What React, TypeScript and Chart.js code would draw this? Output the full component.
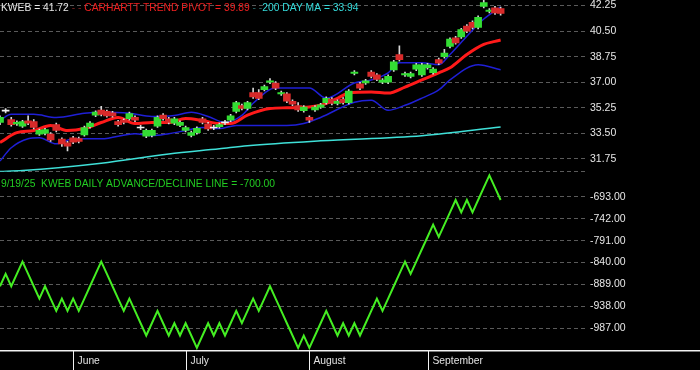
import React, { useEffect, useRef } from 'react';
import { Chart, registerables } from 'chart.js';

Chart.register(...registerables);

// ---------- DATA ----------
const ticker = 'KWEB';
const dateLabel = '9/19/25';
const monthNames = ['June', 'July', 'August', 'September'];
const monthStartDay = [13, 33, 55, 76];

const priceTicks = [31.75, 33.5, 35.25, 37.0, 38.75, 40.5, 42.25];
const adTicks = [-987, -938, -889, -840, -791, -742, -693];

const opens = [
  34.24, 35.06, 34.45, 34.15, 34.0, 34.35, 34.3, 33.45, 33.5, 33.45,
  34.1, 33.1, 32.85, 33.2, 33.15, 33.4, 33.95, 34.75, 35.1, 35.0,
  34.9, 34.3, 34.4, 34.5, 34.6, 33.9, 33.3, 33.35, 34.0, 34.75,
  34.5, 34.2, 34.05, 33.7, 33.35, 33.55, 34.5, 34.15, 33.9, 33.95,
  34.25, 34.4, 35.0, 35.4, 35.2, 36.3, 36.3, 36.5, 37.0, 36.95,
  36.2, 36.2, 35.7, 35.4, 35.05, 34.6, 35.1, 35.3, 35.6, 35.85,
  35.55, 35.85, 35.6, 37.6, 36.9, 36.95, 37.7, 37.5, 37.0, 37.0,
  37.85, 38.9, 37.5, 37.4, 37.9, 37.5, 38.0, 37.65, 38.55, 38.75,
  39.45, 40.05, 40.1, 40.85, 41.1, 40.75, 42.2, 41.85, 42.1, 42.05,
];
const closes = [
  34.59, 35.06, 34.1, 34.25, 34.3, 34.2, 33.9, 33.7, 33.75, 33.05,
  33.7, 32.78, 32.62, 32.9, 32.95, 33.9, 34.2, 34.95, 34.8, 34.7,
  34.7, 34.1, 34.25, 34.85, 34.4, 33.9, 33.7, 33.7, 34.6, 34.5,
  34.25, 34.5, 34.25, 33.9, 33.55, 33.85, 34.25, 33.8, 33.9, 34.1,
  34.25, 34.7, 35.6, 35.2, 35.6, 36.0, 35.9, 36.7, 37.1, 36.6,
  36.3, 35.7, 35.5, 35.1, 35.3, 34.4, 35.3, 35.45, 35.9, 35.55,
  35.7, 35.6, 36.4, 37.7, 36.6, 37.1, 37.4, 37.2, 37.15, 37.4,
  38.4, 38.55, 37.6, 37.6, 38.2, 38.2, 38.2, 37.9, 38.3, 39.0,
  39.95, 39.7, 40.6, 40.5, 40.75, 41.45, 42.45, 41.95, 41.75, 41.72,
];
const highs = [
  34.7, 35.2, 34.6, 34.35, 34.4, 34.7, 34.45, 33.8, 33.85, 33.55,
  34.2, 33.2, 32.95, 33.3, 33.25, 34.0, 34.3, 35.05, 35.35, 35.1,
  35.0, 34.4, 34.5, 34.95, 34.7, 34.05, 33.8, 33.8, 34.7, 34.85,
  34.6, 34.6, 34.35, 34.0, 33.65, 33.95, 34.6, 34.25, 34.05, 34.2,
  34.4, 34.8, 35.7, 35.5, 35.7, 36.6, 36.5, 36.8, 37.25, 37.05,
  36.4, 36.3, 35.8, 35.6, 35.4, 34.7, 35.4, 35.55, 36.0, 35.95,
  35.8, 35.95, 36.5, 37.8, 37.0, 37.2, 37.8, 37.6, 37.25, 37.5,
  38.5, 39.5, 37.7, 37.7, 38.3, 38.3, 38.3, 38.0, 38.65, 39.25,
  40.05, 40.15, 40.7, 40.95, 41.2, 41.55, 42.65, 42.05, 42.2, 42.15,
];
const lows = [
  34.1, 34.9, 34.0, 34.05, 33.9, 34.1, 33.8, 33.35, 33.4, 32.95,
  33.6, 32.6, 32.3, 32.8, 32.85, 33.3, 33.85, 34.65, 34.7, 34.6,
  34.6, 34.0, 34.15, 34.4, 34.3, 33.75, 33.2, 33.25, 33.9, 34.4,
  34.15, 34.1, 33.95, 33.6, 33.25, 33.45, 34.15, 33.7, 33.75, 33.85,
  34.1, 34.3, 34.9, 35.1, 35.1, 35.9, 35.8, 36.4, 36.9, 36.5,
  36.1, 35.6, 35.4, 35.0, 34.95, 34.25, 35.0, 35.2, 35.5, 35.45,
  35.45, 35.5, 35.5, 37.5, 36.5, 36.85, 37.3, 37.1, 36.9, 36.9,
  37.75, 38.45, 37.4, 37.3, 37.8, 37.4, 37.9, 37.55, 38.2, 38.65,
  39.35, 39.6, 40.0, 40.4, 40.65, 40.65, 42.1, 41.75, 41.65, 41.6,
];

const pivotDays = [0, 3, 6, 9, 12, 15, 18, 21, 24, 27, 30, 33, 36, 39, 41, 44, 48, 51, 54, 57, 60, 62, 66, 69, 72, 75, 78, 80, 83, 86, 88, 89];
const pivotVals = [32.87, 33.55, 33.69, 34.04, 33.69, 33.83, 34.24, 34.59, 34.17, 34.24, 34.24, 34.52, 34.38, 34.17, 34.17, 34.75, 35.2, 35.25, 35.28, 35.42, 35.9, 36.26, 36.33, 36.26, 36.67, 37.16, 37.65, 37.99, 38.9, 39.59, 39.8, 39.89];

const upperDays = [0, 2, 6, 10, 15, 18, 23, 27, 31, 34, 37, 40, 43, 45, 49, 55, 58, 63, 66, 69, 71, 75, 78, 80, 83, 86, 89];
const upperVals = [34.38, 34.8, 34.8, 34.59, 34.87, 34.94, 34.87, 34.66, 34.73, 34.94, 34.66, 34.24, 34.73, 35.56, 36.6, 36.6, 35.91, 36.95, 37.16, 37.65, 38.34, 38.34, 38.2, 38.9, 40.15, 41.33, 42.16];

const lowerDays = [0, 2, 5, 7, 10, 13, 18, 24, 27, 30, 33, 36, 39, 42, 45, 51, 54, 57, 63, 66, 69, 72, 75, 78, 80, 85, 89];
const lowerVals = [31.6, 32.51, 33.13, 33.2, 32.78, 33.13, 33.13, 33.48, 33.34, 33.48, 33.69, 33.9, 33.83, 34.04, 34.04, 34.04, 34.17, 34.59, 35.63, 35.77, 35.08, 35.42, 35.91, 36.47, 37.16, 38.2, 37.85];

const maDays = [0, 4, 18, 30, 39, 44, 57, 75, 89];
const maVals = [30.88, 30.95, 31.46, 32.09, 32.44, 32.65, 32.99, 33.34, 33.94];

const adValues = [
  -893.2, -865.6, -893.2, -865.6, -838.0, -865.6, -893.2, -920.8, -893.2, -920.8,
  -948.4, -920.8, -948.4, -920.8, -948.4, -920.8, -893.2, -865.6, -838.0, -865.6,
  -893.2, -920.8, -948.4, -920.8, -948.4, -976.0, -1003.6, -976.0, -948.4, -976.0,
  -1003.6, -976.0, -1003.6, -976.0, -1003.6, -1031.2, -1003.6, -976.0, -1003.6, -976.0,
  -1003.6, -976.0, -948.4, -976.0, -948.4, -920.8, -948.4, -920.8, -893.2, -920.8,
  -948.4, -976.0, -1003.6, -1031.2, -1003.6, -1031.2, -1003.6, -976.0, -948.4, -976.0,
  -1003.6, -976.0, -1003.6, -976.0, -1003.6, -976.0, -948.4, -920.8, -948.4, -920.8,
  -893.2, -865.6, -838.0, -865.6, -838.0, -810.4, -782.8, -755.2, -782.8, -755.2,
  -727.6, -700.0, -727.6, -700.0, -727.6, -700.0, -672.4, -644.8, -672.4, -700.0,
];

// ---------- STYLE ----------
const FONT = '"Liberation Sans", Arial, sans-serif';
const GREEN = '#33dd33';
const RED = '#d82a2a';
const GRID = '#5a5a5a';

export default function App() {
  const ref = useRef<HTMLCanvasElement>(null);

  useEffect(() => {
    const canvas = ref.current;
    if (!canvas) return;
    const days = opens.map((_, i) => i);
    const isDoji = (i: number) => Math.abs(closes[i] - opens[i]) < 0.02;
    const bodyData = days.map((i) => ({
      x: i,
      y: isDoji(i) ? [opens[i] - 0.035, opens[i] + 0.035] : [opens[i], closes[i]],
    }));
    const bodyColors = days.map((i) => (isDoji(i) ? '#f0f0f0' : closes[i] > opens[i] ? GREEN : RED));
    const wickData = days.map((i) => ({ x: i, y: [lows[i], highs[i]] }));
    const pts = (xs: number[], ys: number[]) => xs.map((x, k) => ({ x, y: ys[k] }));

    const bg = {
      id: 'bg',
      beforeDraw(chart: any) {
        const c = chart.ctx;
        c.save();
        c.fillStyle = '#000';
        c.fillRect(0, 0, chart.width, chart.height);
        c.restore();
      },
    };

    const overlay = {
      id: 'overlay',
      afterDraw(chart: any) {
        const c = chart.ctx;
        const xs = chart.scales.x;
        const area = chart.chartArea;
        c.save();
        c.fillStyle = '#f2f2f2';
        c.fillRect(0, area.bottom, chart.width, 1.5);
        c.font = `10.3px ${FONT}`;
        c.textBaseline = 'alphabetic';
        c.textAlign = 'left';
        monthStartDay.forEach((d, k) => {
          const px = Math.round(xs.getPixelForValue(d)) + 0.5;
          c.strokeStyle = '#f2f2f2';
          c.lineWidth = 1;
          c.beginPath();
          c.moveTo(px, area.bottom);
          c.lineTo(px, chart.height);
          c.stroke();
          c.fillStyle = '#e2e2e2';
          c.fillText(monthNames[k], px + 4, area.bottom + 14);
        });
        const last = opens.length - 1;
        let x = 1;
        const seg = (t: string, col: string, y: number) => {
          c.fillStyle = col;
          c.fillText(t, x, y);
          x += c.measureText(t).width;
        };
        seg(`${ticker} = ${closes[last].toFixed(2)}`, '#e8e8e8', 11);
        seg(' - - ', '#7a2222', 11);
        seg(`CARHARTT TREND PIVOT = ${pivotVals[pivotVals.length - 1].toFixed(2)}`, '#ee2020', 11);
        seg(' - -', '#2a6a6a', 11);
        seg(`200 DAY MA = ${maVals[maVals.length - 1].toFixed(2)}`, '#35dada', 11);
        c.fillStyle = '#22cc22';
        c.fillText(
          `${dateLabel}  ${ticker} DAILY ADVANCE/DECLINE LINE = ${adValues[adValues.length - 1].toFixed(2)}`,
          1,
          186.5
        );
        c.restore();
      },
    };

    const fitAxis = (s: any) => {
      s.width = 115;
      s.paddingTop = 0;
      s.paddingBottom = 0;
    };

    const chart = new Chart(canvas, {
      type: 'bar',
      data: {
        datasets: [
          {
            type: 'line',
            data: pts(maDays, maVals),
            yAxisID: 'yP',
            borderColor: '#3fe0d8',
            borderWidth: 1.5,
            pointRadius: 0,
            cubicInterpolationMode: 'monotone',
            order: 5,
          },
          {
            type: 'line',
            data: pts(upperDays, upperVals),
            yAxisID: 'yP',
            borderColor: '#1f1fd6',
            borderWidth: 1.5,
            pointRadius: 0,
            cubicInterpolationMode: 'monotone',
            order: 5,
          },
          {
            type: 'line',
            data: pts(lowerDays, lowerVals),
            yAxisID: 'yP',
            borderColor: '#1f1fd6',
            borderWidth: 1.5,
            pointRadius: 0,
            cubicInterpolationMode: 'monotone',
            order: 5,
          },
          {
            type: 'line',
            data: pts(pivotDays, pivotVals),
            yAxisID: 'yP',
            borderColor: '#ff1a1a',
            borderWidth: 3,
            pointRadius: 0,
            cubicInterpolationMode: 'monotone',
            order: 4,
          },
          {
            type: 'bar',
            data: wickData as any,
            yAxisID: 'yP',
            backgroundColor: '#d8d8d8',
            barThickness: 1,
            grouped: false,
            order: 3,
          },
          {
            type: 'bar',
            data: bodyData as any,
            yAxisID: 'yP',
            backgroundColor: bodyColors,
            barThickness: 7,
            grouped: false,
            order: 2,
          },
          {
            type: 'line',
            data: pts(days, adValues),
            yAxisID: 'yA',
            borderColor: '#44ee22',
            borderWidth: 2,
            pointRadius: 0,
            tension: 0,
            order: 1,
          },
        ] as any,
      },
      options: {
        responsive: false,
        animation: false,
        devicePixelRatio: 1,
        layout: { padding: { left: 0, right: 0, top: 0, bottom: 20 } },
        plugins: { legend: { display: false }, tooltip: { enabled: false } },
        scales: {
          x: {
            type: 'linear',
            min: 0,
            max: 104,
            offset: false,
            display: false,
          },
          yP: {
            type: 'linear',
            position: 'right',
            stack: 'panels',
            stackWeight: 171.7,
            weight: 1,
            min: 30.873,
            max: 42.634,
            afterBuildTicks: (s: any) => {
              s.ticks = priceTicks.map((v) => ({ value: v }));
            },
            afterFit: fitAxis,
            ticks: {
              color: '#e6e6e6',
              font: { family: FONT, size: 10.5 },
              padding: 5,
              autoSkip: false,
              callback: (v: any) => Number(v).toFixed(2),
            },
            grid: { color: GRID, lineWidth: 1, drawTicks: false },
            border: { display: false, dash: [4, 3] },
          },
          yA: {
            type: 'linear',
            position: 'right',
            stack: 'panels',
            stackWeight: 178.3,
            weight: 2,
            min: -1036,
            max: -636.6,
            afterBuildTicks: (s: any) => {
              s.ticks = [...adTicks, -636.6].map((v) => ({ value: v }));
            },
            afterFit: fitAxis,
            ticks: {
              color: '#e6e6e6',
              font: { family: FONT, size: 10.5 },
              padding: 5,
              autoSkip: false,
              callback: (v: any) => (v > -640 ? '' : Number(v).toFixed(2)),
            },
            grid: { color: GRID, lineWidth: 1, drawTicks: false },
            border: { display: false, dash: [4, 3] },
          },
        },
      } as any,
      plugins: [bg, overlay],
    });
    return () => chart.destroy();
  }, []);

  return (
    <div style={{ position: 'fixed', left: 0, top: 0, width: 700, height: 370, background: '#000' }}>
      <canvas ref={ref} width={700} height={370} style={{ display: 'block' }} />
    </div>
  );
}
